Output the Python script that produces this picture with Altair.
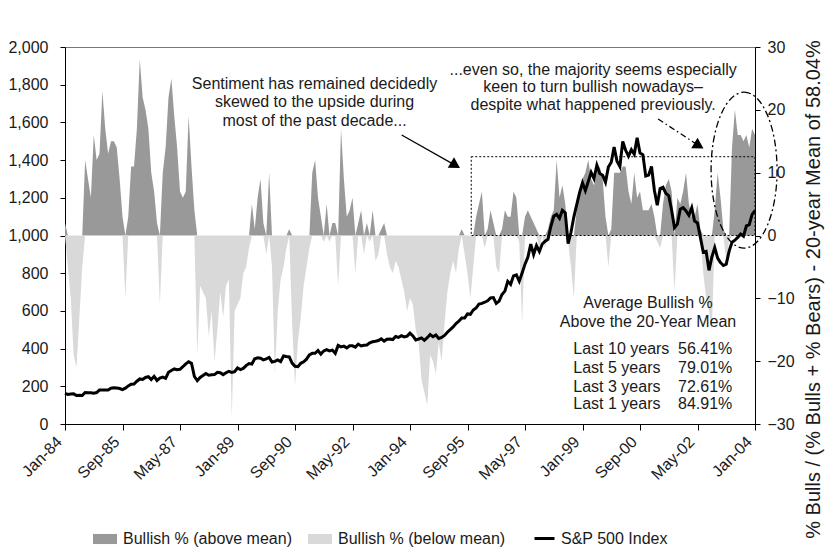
import json
import altair as alt
import pandas as pd

# ---------------- data (monthly, Jan-84 .. Jan-04) ----------------
tick_labels = ["Jan-84", "Sep-85", "May-87", "Jan-89", "Sep-90", "May-92", "Jan-94",
               "Sep-95", "May-97", "Jan-99", "Sep-00", "May-02", "Jan-04"]
tick_months = [0, 20, 40, 60, 80, 100, 120, 140, 160, 180, 200, 220, 240]

sp500 = [
    163, 157, 159, 160, 151, 153, 151, 167, 166, 166, 163, 167,          # 1984
    180, 181, 181, 180, 190, 192, 191, 188, 182, 190, 202, 211,          # 1985
    212, 227, 239, 236, 247, 251, 236, 253, 231, 244, 249, 242,          # 1986
    274, 284, 292, 288, 290, 304, 319, 330, 322, 252, 230, 247,          # 1987
    257, 268, 259, 261, 262, 274, 272, 262, 272, 279, 274, 278,          # 1988
    297, 289, 295, 310, 321, 318, 346, 351, 349, 340, 346, 353,          # 1989
    329, 332, 340, 331, 361, 358, 356, 323, 306, 304, 322, 330,          # 1990
    344, 367, 375, 375, 390, 371, 388, 395, 388, 392, 375, 417,          # 1991
    409, 413, 404, 415, 415, 408, 424, 414, 418, 419, 431, 436,          # 1992
    439, 443, 452, 440, 450, 451, 448, 464, 459, 468, 462, 466,          # 1993
    482, 467, 446, 451, 457, 444, 458, 475, 463, 472, 454, 459,          # 1994
    470, 487, 501, 515, 533, 545, 562, 562, 584, 582, 605, 616,          # 1995
    636, 640, 646, 654, 669, 671, 640, 652, 687, 705, 757, 741,          # 1996
    786, 791, 757, 801, 848, 885, 954, 899, 947, 915, 955, 970,          # 1997
    980, 1049, 1102, 1112, 1091, 1134, 1121, 957, 1017, 1099, 1164, 1229,  # 1998
    1280, 1238, 1286, 1335, 1302, 1373, 1329, 1320, 1283, 1363, 1389, 1469,  # 1999
    1394, 1366, 1499, 1452, 1421, 1455, 1431, 1518, 1437, 1429, 1315, 1320,  # 2000
    1366, 1240, 1160, 1249, 1256, 1224, 1211, 1134, 1041, 1060, 1139, 1148,  # 2001
    1130, 1107, 1147, 1077, 1067, 990, 912, 916, 815, 886, 936, 880,     # 2002
    856, 841, 848, 917, 964, 975, 990, 1008, 996, 1051, 1058, 1112,      # 2003
    1131,                                                                # 2004
]

sentiment = [
    2, -5, -10, -19, -21, -13, -5, 12, 9, 6, 16, 12,          # 1984
    13, 23, 17, 13, 15, 15, 14, 9, 3, -10, 3, 11,             # 1985
    11, 17, 28, 22, 20, 17, 10, 7, 2, -11, 10, 14,            # 1986
    22, 25, 19, 14, 7, 6, 7, 19, 11, 4, -19, -8,              # 1987
    -9, -10, -16, -12, -20, -15, -9, -13, -8, -7, -29, -12,   # 1988
    -11, -10, -6, -5, -2, 5, 1, 6, 9, 2, -3, 10,              # 1989
    -5, -22, -12, -7, -5, -2, 1, -14, -24, -17, -13, -8,      # 1990
    -5, -2, 10, 12, 6, 3, -1, 5, -1, 2, 2, -8,                # 1991
    17, 9, 3, 4, 6, -6, 2, 4, -3, 2, -1, 4,                   # 1992
    -4, -3, 1, 2, -3, -5, -6, -4, -5, -7, -9, -12,            # 1993
    -10, -11, -15, -17, -23, -25, -27, -19, -20, -22, -17, -20,  # 1994
    -14, -9, -6, -4, -6, -2, 1, -3, -6, -10, -5, 3,           # 1995
    5, 7, -2, 1, 4, 2, -5, -6, 1, 4, 3, 3,                    # 1996
    7, 6, -1, -14, 3, 4, 3, 2, 1, -2, 0, -2,                  # 1997
    1, 3, 4, 12, 6, 8, 5, -1, -5, -10, 4, 7,                  # 1998
    9, 10, 12, 9, 8, 10, 11, 9, 3, -5, 1, 10,                 # 1999
    10, 10, 11, 11, 7, 5, 10, 6, 7, 4, 4, 4,                  # 2000
    5, 3, -1, -2, 5, 8, 9, 7, -9, 6, 5, 7,                    # 2001
    10, 5, 3, 3, 5, 1, -6, -10, -12, -15, 4, 10,              # 2002
    6, 1, -4, -1, 14, 20, 16, 16, 15, 16, 14, 17,             # 2003
    16,                                                       # 2004
]

series_names = ["Bullish % (above mean)", "Bullish % (below mean)"]
line_name = "S&P 500 Index"

# annotations (month / sentiment-units)
note1_lines = ["Sentiment has remained decidedly", "skewed to the upside during", "most of the past decade..."]
note1_x = [86.8, 86.8, 86.8]
note1_y = [24.1, 21.25, 18.3]
note2_lines = ["...even so, the majority seems especially", "keen to turn bullish nowadays\u2013",
               "despite what happened previously."]
note2_x = [183.7, 183.7, 183.7]
note2_y = [26.4, 23.6, 20.7]
stat_head = ["Average Bullish %", "Above the 20-Year Mean"]
stat_head_x = [202.8, 202.8]
stat_head_y = [-10.8, -13.7]
stat_labels = ["Last 10 years", "Last 5 years", "Last 3 years", "Last 1 years"]
stat_values = ["56.41%", "79.01%", "72.61%", "84.91%"]
stat_y = [-18.06, -21.04, -24.06, -26.86]
stat_label_x = 176.8
stat_value_x = 232.1

box = {"x0": [141.3], "x1": [240], "y0": [0], "y1": [12.54]}
ellipse = {"month": [236.2], "value": [10.4]}
arrow1 = {"x": [117.1], "y": [16.0], "x2": [135.8], "y2": [11.17]}
arrow2 = {"x": [206.3], "y": [18.54], "x2": [220.5], "y2": [14.29]}

FONT = "Liberation Sans"
TXT = "#1a1a1a"

# ---------------- frames ----------------
n = len(sp500)
months = list(range(n))
sp_df = pd.DataFrame({"month": months, "sp500": sp500, "series": [line_name] * n})
above = [max(v, 0) for v in sentiment]
below = [min(v, 0) for v in sentiment]
sent_df = pd.DataFrame({
    "month": months + months,
    "value": above + below,
    "series": [series_names[0]] * n + [series_names[1]] * n,
})

xscale = alt.Scale(domain=[0, 240], nice=False, zero=False)
yscale_s = alt.Scale(domain=[-30, 30], nice=False)
yscale_p = alt.Scale(domain=[0, 2000], nice=False)

label_expr = json.dumps(tick_labels) + "[round(datum.value/20)]"


def xaxis():
    return alt.Axis(values=tick_months, labelExpr=label_expr, title=None, labelAngle=315,
                    labelAlign="right", labelBaseline="middle", labelPadding=9,
                    labelOffset=-6,
                    tickSize=6, labelFontSize=16, labelFont=FONT, labelColor=TXT,
                    domainColor="black", tickColor="black", grid=False, labelOverlap=False)


def X(field):
    return alt.X(field, scale=xscale, axis=xaxis())


yaxis_s = alt.Axis(orient="right", values=[-30, -20, -10, 0, 10, 20, 30], grid=False,
                   title="% Bulls / (% Bulls + % Bears) - 20-year Mean of 58.04%",
                   titleAngle=270, titleFontSize=20, titleFont=FONT, titleFontWeight="normal",
                   titleColor=TXT, titleX=58, titleY=242, titleAlign="center",
                   titleBaseline="middle",
                   labelFontSize=16, labelFont=FONT, labelColor=TXT, labelPadding=7,
                   tickSize=5, domainColor="black", tickColor="black")

yaxis_p = alt.Axis(orient="left", values=list(range(0, 2001, 200)), grid=False,
                   title=None, labelFontSize=16, labelFont=FONT, labelColor=TXT,
                   labelPadding=12, tickSize=5, domainColor="black", tickColor="black")

area = alt.Chart(sent_df).mark_area(interpolate="linear", opacity=1).encode(
    x=X("month:Q"),
    y=alt.Y("value:Q", scale=yscale_s, axis=yaxis_s, stack=None),
    fill=alt.Fill("series:N", scale=alt.Scale(domain=series_names, range=["#999999", "#d9d9d9"]),
                  legend=alt.Legend(orient="none", legendX=28, legendY=480, direction="horizontal",
                                    title=None, symbolType="M-1,-0.42L1,-0.42L1,0.42L-1,0.42Z",
                                    symbolSize=576, symbolStrokeWidth=0, symbolOpacity=1,
                                    labelFontSize=16, labelFont=FONT, labelColor=TXT,
                                    labelLimit=400, columnPadding=16, labelOffset=6)),
)

box_layer = alt.Chart(pd.DataFrame(box)).mark_rect(
    fillOpacity=0, stroke="black", strokeWidth=1, strokeDash=[2, 2]
).encode(
    x=X("x0:Q"), x2="x1:Q",
    y=alt.Y("y0:Q", scale=yscale_s, axis=None), y2="y1:Q",
)

k = 0.5523
a = 0.423
ell_path = (f"M0,-1 C{k*a:.4f},-1 {a},-{k} {a},0 C{a},{k} {k*a:.4f},1 0,1 "
            f"C-{k*a:.4f},1 -{a},{k} -{a},0 C-{a},-{k} -{k*a:.4f},-1 0,-1 Z")
ell_layer = alt.Chart(pd.DataFrame(ellipse)).mark_point(
    shape=ell_path, size=24336, filled=False, stroke="black", strokeWidth=1.3,
    strokeDash=[7, 3, 2, 3], opacity=1
).encode(
    x=X("month:Q"),
    y=alt.Y("value:Q", scale=yscale_s, axis=None),
)


def arrow_layers(d, dash):
    df = pd.DataFrame(d)
    kw = dict(stroke="black", strokeWidth=1.3)
    if dash:
        kw["strokeDash"] = dash
    rule = alt.Chart(df).mark_rule(**kw).encode(
        x=X("x:Q"), x2="x2:Q",
        y=alt.Y("y:Q", scale=yscale_s, axis=None), y2="y2:Q",
    )
    head = alt.Chart(df).mark_point(shape="triangle-right", filled=True, color="black",
                                    opacity=1, size=150, angle=31).encode(
        x=X("x2:Q"),
        y=alt.Y("y2:Q", scale=yscale_s, axis=None),
    )
    return [rule, head]


def text_layer(lines, xs, ys, align="center"):
    df = pd.DataFrame({"t": lines, "month": xs, "value": ys})
    return alt.Chart(df).mark_text(font=FONT, fontSize=16, color=TXT, align=align,
                                   baseline="middle").encode(
        x=X("month:Q"),
        y=alt.Y("value:Q", scale=yscale_s, axis=None),
        text="t:N",
    )


line = alt.Chart(sp_df).mark_line(strokeWidth=3, interpolate="linear").encode(
    x=X("month:Q"),
    y=alt.Y("sp500:Q", scale=yscale_p, axis=yaxis_p),
    stroke=alt.Stroke("series:N", scale=alt.Scale(domain=[line_name], range=["black"]),
                      legend=alt.Legend(orient="none", legendX=468, legendY=480, title=None,
                                        symbolType="stroke", symbolStrokeWidth=3,
                                        symbolSize=400, labelFontSize=16, labelFont=FONT,
                                        labelColor=TXT, labelLimit=400, labelOffset=5)),
)

layers = [area, box_layer, ell_layer]
layers += arrow_layers(arrow1, None)
layers += arrow_layers(arrow2, [6, 3, 1.5, 3])
layers += [
    text_layer(note1_lines, note1_x, note1_y),
    text_layer(note2_lines, note2_x, note2_y),
    text_layer(stat_head, stat_head_x, stat_head_y),
    text_layer(stat_labels, [stat_label_x] * 4, stat_y, align="left"),
    text_layer(stat_values, [stat_value_x] * 4, stat_y, align="right"),
    line,
]

chart = alt.layer(*layers).resolve_scale(y="independent").properties(
    width=690, height=377,
    autosize=alt.AutoSizeParams(type="none"),
    padding={"left": 57, "top": 39, "right": 71, "bottom": 124},
    background="white",
).configure_view(stroke="#777777", strokeWidth=1)

chart.save("out.html", embed_options={"renderer": "svg", "actions": False})
